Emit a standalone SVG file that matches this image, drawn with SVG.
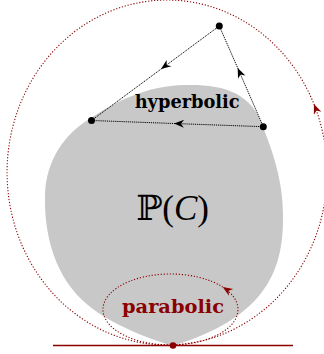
<svg xmlns="http://www.w3.org/2000/svg" width="324" height="354" viewBox="0 0 324 354">
<style>
.dotk{fill:none;stroke:#000;stroke-width:1;stroke-dasharray:1.2 0.9;marker-mid:url(#stk)}
.dotr{fill:none;stroke:#8b0000;stroke-width:1.1;stroke-dasharray:1.2 1.8;marker-mid:url(#str)}
.lbl{font-family:"DejaVu Serif","Liberation Serif",serif;font-weight:bold;font-size:18px}
</style>
<defs>
<marker id="stk" viewBox="-11 -5 12 10" refX="0" refY="0" markerWidth="12" markerHeight="10" markerUnits="userSpaceOnUse" orient="auto"><path d="M0,0 L-10,-4 L-7,0 L-10,4 Z" fill="#000"/></marker>
<marker id="str" viewBox="-11 -5 12 10" refX="0" refY="0" markerWidth="12" markerHeight="10" markerUnits="userSpaceOnUse" orient="auto"><path d="M0,0 L-10,-4 L-7,0 L-10,4 Z" fill="#8b0000"/></marker>
</defs>
<g id="domain">
<path d="M173,346 C140,336 95,318 73,290 C55,268 44,235 45,195 C46,160 65,133 91,118 C115,102 145,86 185,85 C222,84 252,92 263,127 C272,150 283,180 283,215 C284,275 262,318 173,346 Z" fill="#c8c8c8"/>
</g>
<g id="outer-orbit">
<path class="dotr" d="M167,345 A160 172.5 0 0 0 313.9,104 A160 172.5 0 1 0 167,345"/>
</g>
<g id="parabolic-orbit">
<path class="dotr" d="M170.5,345 A67.5 35.5 0 0 0 222.7,287 A67.5 35.5 0 1 0 170.5,345"/>
</g>
<g id="connectors">
<polyline class="dotk" points="219.3,26 161,69.1 91.5,120.5"/>
<polyline class="dotk" points="263.3,126.7 174,123.5 91.5,120.5"/>
<polyline class="dotk" points="263.3,126.7 237.7,68 219.3,26"/>
</g>
<g id="tangent-line">
<line x1="53" y1="345.5" x2="293" y2="345.5" stroke="#8b0000" stroke-width="1.6"/>
</g>
<g id="point-top"><circle cx="219.3" cy="26" r="3.5"/></g>
<g id="point-left"><circle cx="91.5" cy="120.5" r="3.5"/></g>
<g id="point-right"><circle cx="263.3" cy="126.7" r="3.5"/></g>
<g id="point-parabolic"><circle cx="173" cy="345.5" r="3.3" fill="#8b0000"/></g>
<g id="label-hyperbolic"><text class="lbl" x="134.7" y="108" textLength="105" lengthAdjust="spacingAndGlyphs" fill="#000">hyperbolic</text></g>
<g id="label-parabolic"><text class="lbl" x="122" y="313.3" textLength="102" lengthAdjust="spacingAndGlyphs" fill="#8b0000">parabolic</text></g>
<g id="label-PC"><text x="136" y="220" font-size="35" fill="#000"><tspan font-family="DejaVu Serif, serif">ℙ</tspan><tspan font-family="Liberation Serif, serif">(</tspan><tspan font-family="Liberation Serif, serif" font-style="italic">C</tspan><tspan font-family="Liberation Serif, serif">)</tspan></text></g>
</svg>
